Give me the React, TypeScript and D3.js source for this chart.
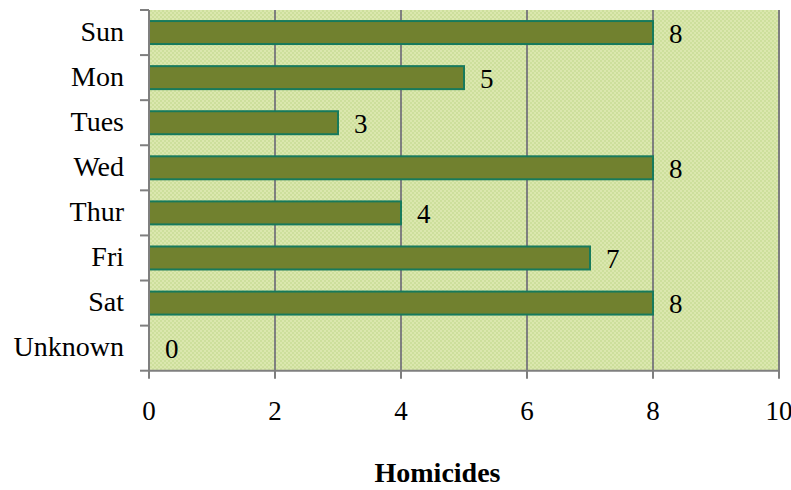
import React from "react";
import * as d3 from "d3";

const categories = ["Sun", "Mon", "Tues", "Wed", "Thur", "Fri", "Sat", "Unknown"];
const homicides = [8, 5, 3, 8, 4, 7, 8, 0];
const xTicks = [0, 2, 4, 6, 8, 10];
const axisTitle = "Homicides";

const W = 791;
const H = 490;
const plotLeft = 149;
const plotRight = 779;
const plotTop = 10;
const plotBottom = 370.7;

export default function App() {
  const x = d3.scaleLinear().domain([0, 10]).range([plotLeft, plotRight]);
  const y = d3
    .scaleBand<string>()
    .domain(categories)
    .range([plotTop, plotBottom])
    .paddingInner(0.49)
    .paddingOuter(0.245);
  const step = y.step();
  const bw = y.bandwidth();
  const boundaries = d3.range(categories.length + 1).map((i) => plotTop + i * step);

  return (
    <div style={{ position: "absolute", left: 0, top: 0 }}>
      <svg width={W} height={H} style={{ display: "block" }}>
        <defs>
          <pattern id="dots" width="4" height="4" patternUnits="userSpaceOnUse">
            <rect width="4" height="4" fill="#dbe7ae" />
            <rect x="0" y="0" width="2" height="2" fill="#cddf9c" />
            <rect x="2" y="2" width="2" height="2" fill="#cddf9c" />
          </pattern>
        </defs>
        <rect x={0} y={0} width={W} height={H} fill="#ffffff" />
        <rect
          x={plotLeft}
          y={plotTop}
          width={plotRight - plotLeft}
          height={plotBottom - plotTop}
          fill="url(#dots)"
        />
        {xTicks.slice(1).map((t) => (
          <line
            key={"g" + t}
            x1={x(t)}
            x2={x(t)}
            y1={plotTop}
            y2={plotBottom}
            stroke="#7f7f7f"
            strokeWidth={2}
          />
        ))}
        {categories.map((c, i) => (
          <rect
            key={"b" + c}
            x={x(0)}
            y={y(c)}
            width={x(homicides[i]) - x(0)}
            height={bw}
            fill={homicides[i] > 0 ? "#71812f" : "none"}
            stroke={homicides[i] > 0 ? "#177a5c" : "none"}
            strokeWidth={2}
          />
        ))}
        <line x1={plotLeft} x2={plotLeft} y1={plotTop} y2={plotBottom} stroke="#7f7f7f" strokeWidth={2} />
        {boundaries.map((b, i) => (
          <line key={"lt" + i} x1={140} x2={plotLeft} y1={b} y2={b} stroke="#7f7f7f" strokeWidth={2} />
        ))}
        <line x1={plotLeft - 1} x2={plotRight + 1} y1={plotBottom} y2={plotBottom} stroke="#7f7f7f" strokeWidth={2} />
        {xTicks.map((t) => (
          <line key={"bt" + t} x1={x(t)} x2={x(t)} y1={plotBottom} y2={plotBottom + 8} stroke="#7f7f7f" strokeWidth={2} />
        ))}
        {categories.map((c) => (
          <text
            key={"cl" + c}
            x={124}
            y={(y(c) as number) + bw / 2 + 8}
            textAnchor="end"
            fontFamily="'Liberation Serif', 'Times New Roman', serif"
            fontSize={28}
            fill="#000"
          >
            {c}
          </text>
        ))}
        {categories.map((c, i) => (
          <text
            key={"vl" + c}
            x={x(homicides[i]) + 16}
            y={(y(c) as number) + bw / 2 + 10}
            textAnchor="start"
            fontFamily="'Liberation Serif', 'Times New Roman', serif"
            fontSize={27}
            fill="#000"
          >
            {homicides[i]}
          </text>
        ))}
        {xTicks.map((t) => (
          <text
            key={"xl" + t}
            x={x(t)}
            y={420}
            textAnchor="middle"
            fontFamily="'Liberation Serif', 'Times New Roman', serif"
            fontSize={27}
            fill="#000"
          >
            {t}
          </text>
        ))}
        <text
          x={437.5}
          y={482}
          textAnchor="middle"
          fontFamily="'Liberation Serif', 'Times New Roman', serif"
          fontWeight="bold"
          fontSize={28}
          fill="#000"
        >
          {axisTitle}
        </text>
      </svg>
    </div>
  );
}
